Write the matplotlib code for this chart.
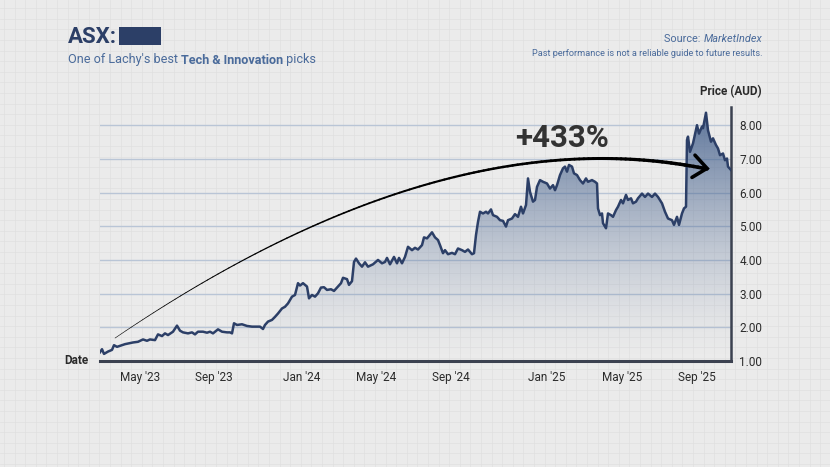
import numpy as np
import matplotlib
matplotlib.use('Agg')
import matplotlib.pyplot as plt
import matplotlib.colors as mcolors
from matplotlib.patches import Polygon, Rectangle
from matplotlib.collections import LineCollection

plt.rcParams['font.family'] = ['Roboto', 'DejaVu Sans']

# trading-day index and closing price (AUD)
days = [0, 2, 4, 8, 12, 14, 17, 20, 25, 28, 33, 38, 43, 47, 50, 55, 58, 62, 65, 68,
        73, 77, 80, 83, 88, 92, 95, 98, 103, 107, 110, 113, 118, 122, 127, 130, 132, 134, 137, 142,
        147, 152, 155, 160, 163, 165, 168, 172, 175, 178, 182, 185, 188, 192, 195, 198, 200, 203, 207, 209,
        212, 215, 218, 221, 224, 227, 231, 234, 237, 241, 243, 247, 249, 252, 254, 256, 259, 262, 265, 268,
        273, 278, 282, 285, 287, 290, 294, 297, 299, 302, 305, 308, 312, 315, 318, 322, 324, 327, 332, 335,
        338, 340, 343, 345, 348, 352, 355, 358, 362, 365, 368, 372, 374, 376, 378, 380, 383, 386, 388, 391,
        393, 397, 400, 403, 406, 408, 412, 415, 418, 421, 423, 426, 428, 430, 433, 435, 437, 440, 443, 447,
        450, 453, 455, 457, 460, 463, 465, 467, 469, 472, 474, 477, 480, 483, 486, 488, 492, 495, 497, 498,
        500, 502, 503, 506, 508, 511, 513, 516, 518, 521, 523, 526, 528, 531, 533, 536, 538, 542, 545, 548,
        552, 555, 558, 562, 565, 568, 572, 574, 577, 579, 582, 584, 586, 587, 588, 590, 593, 597, 599, 602,
        603, 606, 608, 611, 613, 616, 618, 620, 623, 625, 627, 628, 631]
prices = [1.26, 1.35, 1.21, 1.28, 1.33, 1.47, 1.42, 1.45, 1.50, 1.52, 1.55, 1.57, 1.64, 1.60, 1.64, 1.62, 1.79, 1.74, 1.82, 1.77,
          1.87, 2.05, 1.90, 1.85, 1.82, 1.85, 1.79, 1.87, 1.87, 1.84, 1.87, 1.82, 1.94, 1.87, 1.85, 1.85, 1.82, 2.12, 2.07, 2.09,
          2.04, 2.02, 2.02, 2.02, 1.95, 2.07, 2.17, 2.22, 2.31, 2.41, 2.56, 2.61, 2.71, 2.91, 2.96, 3.31, 3.24, 3.31, 3.21, 2.86,
          2.96, 2.91, 3.01, 3.18, 3.19, 3.11, 3.13, 3.08, 3.18, 3.31, 3.47, 3.43, 3.26, 3.37, 3.94, 4.04, 3.90, 3.80, 3.93, 3.80,
          3.87, 4.00, 3.90, 3.94, 4.06, 3.87, 4.09, 3.90, 4.06, 3.90, 4.09, 4.39, 4.29, 4.36, 4.31, 4.44, 4.67, 4.64, 4.82, 4.67,
          4.59, 4.44, 4.20, 4.29, 4.17, 4.21, 4.17, 4.34, 4.29, 4.24, 4.31, 4.17, 4.20, 4.74, 5.13, 5.43, 5.38, 5.43, 5.38, 5.50,
          5.33, 5.28, 5.18, 5.16, 4.99, 5.18, 5.23, 5.36, 5.28, 5.58, 5.38, 5.63, 6.42, 6.02, 5.73, 5.78, 6.17, 6.37, 6.32, 6.27,
          6.12, 6.22, 6.07, 6.22, 6.52, 6.72, 6.77, 6.62, 6.82, 6.77, 6.57, 6.52, 6.37, 6.27, 6.42, 6.32, 6.37, 6.32, 6.27, 5.53,
          5.33, 5.38, 5.09, 4.94, 5.38, 5.33, 5.28, 5.48, 5.58, 5.78, 5.68, 5.93, 5.78, 5.83, 5.68, 5.73, 5.83, 5.97, 5.87, 5.97,
          5.87, 5.97, 5.87, 5.68, 5.43, 5.23, 5.18, 5.04, 5.28, 5.04, 5.38, 5.53, 5.58, 7.56, 7.66, 7.21, 7.46, 8.00, 7.75, 7.96,
          7.91, 8.37, 7.85, 7.51, 7.61, 7.41, 7.31, 7.11, 7.16, 6.96, 7.01, 6.77, 6.67]

tick_days = [40, 114, 202, 276, 351, 447, 522, 597]
tick_labels = ["May '23", "Sep '23", "Jan '24", "May '24", "Sep '24", "Jan '25", "May '25", "Sep '25"]
y_ticks = [1, 2, 3, 4, 5, 6, 7, 8]

NAVY = '#2c3f67'
BLUE = '#4a6b9b'
DARK = '#2b2b2b'

fig = plt.figure(figsize=(8.3, 4.67), dpi=100)
fig.patch.set_facecolor('#ebebeb')

# graph paper background
bg = fig.add_axes([0, 0, 1, 1], zorder=-10)
bg.set_xlim(0, 830)
bg.set_ylim(0, 467)
bg.axis('off')
for gx in np.arange(4, 830, 10.6):
    bg.axvline(gx, color='#e0e0e0', lw=0.5)
for gy in np.arange(3, 467, 10.6):
    bg.axhline(gy, color='#e0e0e0', lw=0.5)

ax = fig.add_axes([100 / 830, 1 - 361 / 467, 631 / 830, 254 / 467])
ax.set_facecolor('none')
ax.set_xlim(0, 631)
ax.set_ylim(1, 8.54)

for yv in y_ticks[1:]:
    ax.axhline(yv, color='#b9c5d6', lw=1.0, zorder=0.5)

# gradient fill under the line
verts = [(days[0], 1)] + list(zip(days, prices)) + [(days[-1], 1)]
clip = Polygon(verts, closed=True, facecolor='none', edgecolor='none')
ax.add_patch(clip)
n = 256
rgba = np.zeros((n, 1, 4))
rgba[..., :3] = mcolors.to_rgb('#3f5c8a')
rgba[..., 3] = (np.linspace(0, 1, n) ** 1.5 * 0.85)[:, None]
im = ax.imshow(rgba, extent=[0, 631, 1, 8.54], origin='lower', aspect='auto', zorder=1,
               interpolation='bilinear')
im.set_clip_path(clip)

ax.plot(days, prices, color=NAVY, lw=1.8, zorder=3, solid_joinstyle='round')

# growth arc (quadratic bezier) with tapering width
p0 = np.array([15, 1.68])
p1 = np.array([343, 8.30])
p2 = np.array([607, 6.70])
t = np.linspace(0, 1, 120)[:, None]
curve = (1 - t) ** 2 * p0 + 2 * (1 - t) * t * p1 + t ** 2 * p2
segs = np.stack([curve[:-1], curve[1:]], axis=1)
lc = LineCollection(segs, colors='black', linewidths=np.linspace(0.4, 2.6, len(segs)),
                    capstyle='round', zorder=4)
ax.add_collection(lc)
ax.plot([595, 607, 592], [7.11, 6.72, 6.45], color='black', lw=2.6,
        solid_capstyle='round', solid_joinstyle='miter', zorder=4)
ax.text(462, 7.62, '+433%', fontsize=22.5, fontweight='bold', color='#333333',
        ha='center', va='center', zorder=5)

# axes styling
for side in ['top', 'left']:
    ax.spines[side].set_visible(False)
ax.spines['bottom'].set_color('#3b4150')
ax.spines['bottom'].set_linewidth(2.2)
ax.spines['right'].set_color('#3b4150')
ax.spines['right'].set_linewidth(1.8)
ax.yaxis.tick_right()
ax.set_yticks(y_ticks)
ax.set_yticklabels([f'{v:.2f}' for v in y_ticks])
ax.set_xticks(tick_days)
ax.set_xticklabels(tick_labels)
ax.tick_params(axis='y', length=0, pad=6, labelsize=8.5, labelcolor=DARK)
ax.tick_params(axis='x', length=0, pad=7, labelsize=8.5, labelcolor=DARK)

fig.text(88 / 830, 1 - 361 / 467, 'Date', fontsize=8.5, fontweight='bold', color=DARK,
         ha='right', va='center')
fig.text(762 / 830, 1 - 92 / 467, 'Price (AUD)', fontsize=8.5, fontweight='bold', color=DARK,
         ha='right', va='center')

# title block
fig.text(68 / 830, 1 - 37 / 467, 'ASX:', fontsize=16, fontweight='bold', color=NAVY,
         ha='left', va='center')
fig.add_artist(Rectangle((119 / 830, 1 - 45 / 467), 42 / 830, 18 / 467,
                         transform=fig.transFigure, facecolor=NAVY, edgecolor='none'))

renderer = fig.canvas.get_renderer()
x = 68
parts = [("One of Lachy's best ", 'normal'), ('Tech & Innovation', 'bold'), (' picks', 'normal')]
for txt, w in parts:
    tx = fig.text(x / 830, 1 - 60 / 467, txt, fontsize=9.1, fontweight=w, color=BLUE,
                  ha='left', va='center')
    x += tx.get_window_extent(renderer).width

src = fig.text(762 / 830, 1 - 39 / 467, 'MarketIndex', fontsize=7.8, style='italic', color=BLUE,
               ha='right', va='center')
w = src.get_window_extent(renderer).width
fig.text((762 - w) / 830, 1 - 39 / 467, 'Source: ', fontsize=7.8, color=BLUE,
         ha='right', va='center')
fig.text(762 / 830, 1 - 54 / 467, 'Past performance is not a reliable guide to future results.',
         fontsize=6.6, color=BLUE, ha='right', va='center')

fig.savefig('out.png', dpi=100, facecolor=fig.get_facecolor())
